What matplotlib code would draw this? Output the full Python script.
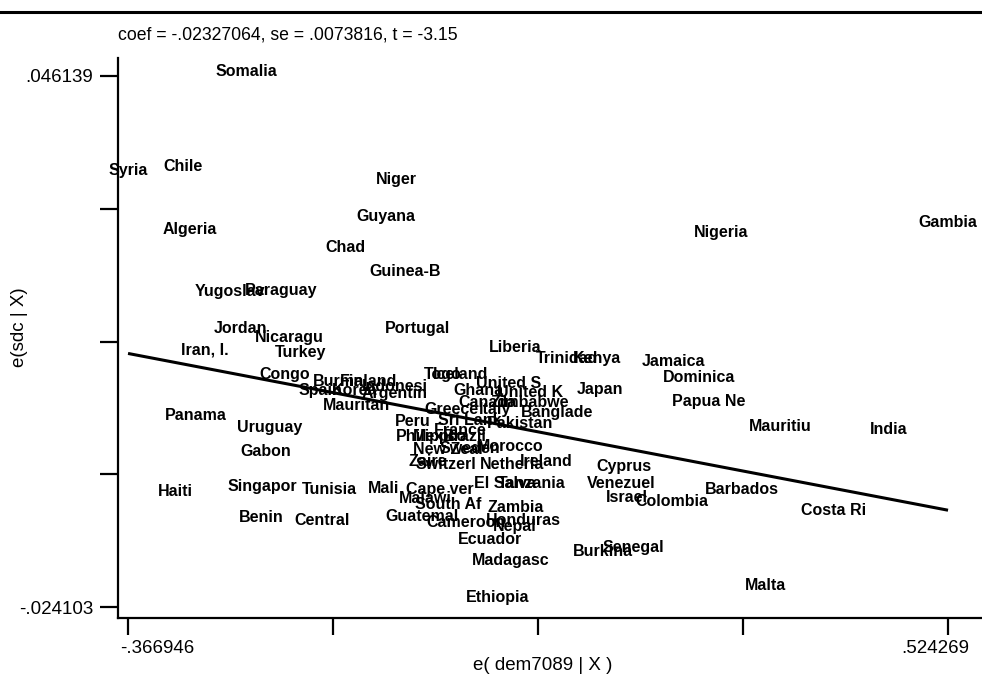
import numpy as np
import matplotlib
matplotlib.use("Agg")
import matplotlib.pyplot as plt
from matplotlib.transforms import ScaledTranslation

plt.rcParams['font.family'] = ['Liberation Sans', 'DejaVu Sans']

countries = ["Somalia", "Syria", "Chile", "Niger", "Guyana", "Algeria", "Chad", "Nigeria", "Gambia",
             "Guinea-B", "Yugoslav", "Paraguay", "Jordan", "Nicaragu", "Portugal", "Iran, I.", "Turkey",
             "Liberia", "Trinidad", "Kenya", "Jamaica", "Dominica", "Congo", "Burma", "Finland", "Spain",
             "Korea", "Indonesi", "Argentin", "Mauritan", "Togo", "Iceland", "United S", "Ghana",
             "United K", "Japan", "Papua Ne", "Canada", "Zimbabwe", "Panama", "Greece", "Italy",
             "Banglade", "Pakistan", "Sri Lank", "Peru", "Uruguay", "Mauritiu", "India", "France",
             "Philippi", "Mexico", "Brazil", "Gabon", "New Zeal", "Sweden", "Morocco", "Zaire",
             "Switzerl", "Netherla", "Ireland", "Cyprus", "Venezuel", "Haiti", "Singapor", "Tunisia",
             "Mali", "Cape ver", "El Salva", "Tanzania", "Barbados", "Malawi", "South Af", "Zambia",
             "Israel", "Colombia", "Costa Ri", "Benin", "Central", "Guatemal", "Cameroon", "Honduras",
             "Nepal", "Ecuador", "Burkina", "Senegal", "Madagasc", "Malta", "Ethiopia"]

e_dem7089 = [-0.2387, -0.3669, -0.3071, -0.0756, -0.0865, -0.2995, -0.1310, 0.2776, 0.5243,
             -0.0658, -0.2560, -0.2006, -0.2452, -0.1919, -0.0528, -0.2832, -0.1789,
             0.0537, 0.1102, 0.1428, 0.2255, 0.2537, -0.1963, -0.1387, -0.1060, -0.1582,
             -0.1202, -0.0767, -0.0767, -0.1191, -0.0245, -0.0050, 0.0472, 0.0135,
             0.0700, 0.1461, 0.2646, 0.0233, 0.0700, -0.2930, -0.0158, 0.0320,
             0.0994, 0.0592, 0.0048, -0.0571, -0.2126, 0.3418, 0.4602, -0.0061,
             -0.0441, -0.0278, -0.0006, -0.2169, -0.0191, 0.0048, 0.0483, -0.0408,
             -0.0213, 0.0505, 0.0874, 0.1722, 0.1689, -0.3158, -0.2213, -0.1484,
             -0.0897, -0.0278, 0.0429, 0.0722, 0.3004, -0.0441, -0.0191, 0.0548,
             0.1754, 0.2244, 0.4004, -0.2223, -0.1560, -0.0474, 0.0005, 0.0624,
             0.0537, 0.0266, 0.1494, 0.1820, 0.0494, 0.3254, 0.0352]

e_sdc = [0.0468, 0.0336, 0.0342, 0.0325, 0.0276, 0.0258, 0.0234, 0.0254, 0.0268,
         0.0203, 0.0176, 0.0178, 0.0128, 0.0116, 0.0127, 0.0099, 0.0096,
         0.0102, 0.0088, 0.0088, 0.0084, 0.0063, 0.0066, 0.0057, 0.0057, 0.0045,
         0.0045, 0.0051, 0.0041, 0.0026, 0.0066, 0.0066, 0.0055, 0.0046,
         0.0043, 0.0047, 0.0031, 0.0029, 0.0030, 0.0012, 0.0020, 0.0020,
         0.0016, 0.0002, 0.0006, 0.0005, -0.0003, -0.0002, -0.0006, -0.0008,
         -0.0016, -0.0016, -0.0015, -0.0035, -0.0033, -0.0032, -0.0029, -0.0048,
         -0.0053, -0.0052, -0.0049, -0.0055, -0.0077, -0.0088, -0.0081, -0.0086,
         -0.0084, -0.0086, -0.0078, -0.0078, -0.0086, -0.0098, -0.0105, -0.0110,
         -0.0096, -0.0102, -0.0114, -0.0122, -0.0127, -0.0121, -0.0129, -0.0126,
         -0.0135, -0.0152, -0.0168, -0.0162, -0.0180, -0.0213, -0.0229]

coef = -0.02327064
intercept = 0.0009
x_range = [-0.366946, 0.524269]
y_range = [-0.024103, 0.046139]
x_ticklabels = ["-.366946", "", "", "", ".524269"]
y_ticklabels = ["-.024103", "", "", "", ".046139"]
subtitle = "coef = -.02327064, se = .0073816, t = -3.15"

W, H = 982, 678
fig = plt.figure(figsize=(W / 100, H / 100), dpi=100)
L, R, T, B = 118, 982, 58, 618
ax = fig.add_axes([L / W, 1 - B / H, (R - L) / W, (B - T) / H])

for name, xv, yv in zip(countries, e_dem7089, e_sdc):
    ax.text(xv, yv, name, ha='center', va='center', fontsize=11.5, fontweight='bold', color='black')

xs = np.array([min(e_dem7089), max(e_dem7089)])
ax.plot(xs, coef * xs + intercept, color='black', lw=2.2, solid_capstyle='butt')

# axis limits (data range plus Stata-style margins)
xpx = (x_range[1] - x_range[0]) / (948 - 128)
ypx = (y_range[1] - y_range[0]) / (607 - 76)
ax.set_xlim(x_range[0] - (128 - L) * xpx, x_range[1] + (R - 948) * xpx)
ax.set_ylim(y_range[0] - (B - 607) * ypx, y_range[1] + (76 - T) * ypx)

ax.set_xticks(np.linspace(x_range[0], x_range[1], 5))
ax.set_xticklabels(x_ticklabels)
ax.set_yticks(np.linspace(y_range[0], y_range[1], 5))
ax.set_yticklabels(y_ticklabels)

for s in ['top', 'right']:
    ax.spines[s].set_visible(False)
for s in ['left', 'bottom']:
    ax.spines[s].set_linewidth(1.6)
ax.tick_params(axis='both', direction='out', width=1.6, labelsize=13.5, colors='black')
ax.tick_params(axis='y', length=13, pad=5)
ax.tick_params(axis='x', length=12, pad=4)

xl = ax.get_xticklabels()
xl[0].set_horizontalalignment('left')
xl[0].set_transform(xl[0].get_transform() + ScaledTranslation(-0.08, 0, fig.dpi_scale_trans))
xl[-1].set_transform(xl[-1].get_transform() + ScaledTranslation(-0.13, 0, fig.dpi_scale_trans))

fig.text(543 / W, 1 - 665 / H, "e( dem7089 | X )", ha='center', va='center', fontsize=13.5)
fig.text(20 / W, 1 - 327 / H, "e(sdc | X)", ha='center', va='center', rotation=90, fontsize=13.5)
fig.text(118 / W, 1 - 35 / H, subtitle, ha='left', va='center', fontsize=12.7)

fig.add_artist(plt.Line2D([0, 1], [1 - 12 / H, 1 - 12 / H], transform=fig.transFigure,
                          color='black', lw=2.2))

fig.savefig("out.png", dpi=100, facecolor='white')
